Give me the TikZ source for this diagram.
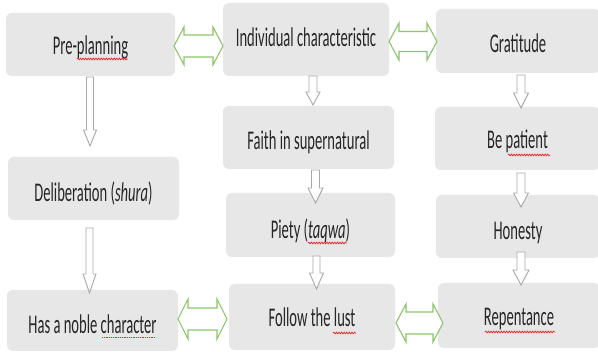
\documentclass[tikz,border=0pt]{standalone}
\usepackage{fontspec}
\setmainfont[FakeStretch=0.54]{Carlito}
\usetikzlibrary{decorations.pathmorphing}
\definecolor{boxfill}{HTML}{E7E7E7}
\definecolor{txt}{HTML}{262626}
\definecolor{grn}{HTML}{8CC56A}
\definecolor{gry}{HTML}{A8A8A8}
\definecolor{squigc}{HTML}{E8262A}
\tikzset{
  box/.style={fill=boxfill, rounded corners=6pt, text=txt, inner sep=0pt,
    font=\fontsize{27}{30}\selectfont},
  bl/.style={text height=2*#1 pt, text depth=0pt},
  downarrow/.style={draw=gry, fill=white, line width=0.9pt, line join=miter},
  twoway/.style={draw=grn, fill=white, line width=1.1pt, line join=miter},
  squiggle/.style={draw=squigc, line width=0.7pt, decorate,
    decoration={snake, amplitude=0.9pt, segment length=2.6pt}},
}
\newcommand\dnarrow[6]{%
  \draw[downarrow] (#1-#5,#2) -- (#1+#5,#2) -- (#1+#5,#3) -- (#1+#6,#3) -- (#1,#4)
    -- (#1-#6,#3) -- (#1-#5,#3) -- cycle;}
\newcommand\dblarrow[6]{%
  \draw[twoway] (#1,#3) -- (#1+#6,#3-#4) -- (#1+#6,#3-#5) -- (#2-#6,#3-#5)
    -- (#2-#6,#3-#4) -- (#2,#3) -- (#2-#6,#3+#4) -- (#2-#6,#3+#5)
    -- (#1+#6,#3+#5) -- (#1+#6,#3+#4) -- cycle;}
\begin{document}
\begin{tikzpicture}[x=1pt,y=-1pt]
\useasboundingbox[fill=white] (0,0) rectangle (598,352);
% boxes
\node[box, bl=10.5, minimum width=169, minimum height=63] (pre) at (90.5,44.5) {Pre-planning};
\node[box, bl=7.5, minimum width=166, minimum height=73] (ind) at (306,39.5) {Individual characteristic};
\node[box, bl=12, minimum width=164, minimum height=64] (grat) at (518,41) {Gratitude};
\node[box, bl=12.5, minimum width=171, minimum height=63] (faith) at (308.5,137.5) {Faith in supernatural};
\node[box, bl=10, minimum width=165, minimum height=63] (pat) at (517.5,138.5) {Be patient};
\node[box, bl=13, minimum width=171, minimum height=63] (delib) at (93.5,188.5) {Deliberation (\emph{shura})};
\node[box, bl=13.3, minimum width=169, minimum height=64] (piety) at (310.5,225) {Piety (\emph{taqwa})};
\node[box, bl=12.8, minimum width=164, minimum height=63] (hon) at (518,226.5) {Honesty};
\node[box, bl=12.8, minimum width=171, minimum height=61] (noble) at (92.5,320.5) {Has a noble character};
\node[box, bl=9.7, minimum width=166, minimum height=66] (follow) at (312,317) {Follow the lust};
\node[box, bl=10.5, minimum width=162, minimum height=65] (rep) at (519,315.5) {Repentance};
% down block arrows
\dnarrow{90}{77}{130}{146}{3.5}{6.5}
\dnarrow{89.5}{228}{274}{293}{3.5}{6.5}
\dnarrow{313}{76}{92}{105}{4}{7}
\dnarrow{315.5}{170}{188}{203}{4}{7.5}
\dnarrow{316.5}{256}{273}{289}{3.5}{7}
\dnarrow{521}{75}{93}{108}{4}{7.5}
\dnarrow{521}{173}{193}{207}{4}{7.5}
\dnarrow{521}{252}{270}{285}{4}{8}
% two-way block arrows
\dblarrow{174}{223}{46}{19}{11}{10}
\dblarrow{389}{437}{41.5}{18.5}{10}{10}
\dblarrow{178}{227}{319}{20}{11}{10}
\dblarrow{396}{443}{323}{19}{11}{10}
% spell-check marks
\draw[squiggle] (77,59) -- (128,59);
\draw[squiggle] (508,155) -- (550,155);
\draw[squiggle] (308,243) -- (347,243);
\draw[squiggle] (333,333) -- (356,333);
\draw[squiggle] (485,332) -- (555,332);
\draw[draw=squigc, line width=0.8pt, dash pattern=on 0.8pt off 1pt] (102,337) -- (155,337);
\end{tikzpicture}
\end{document}
